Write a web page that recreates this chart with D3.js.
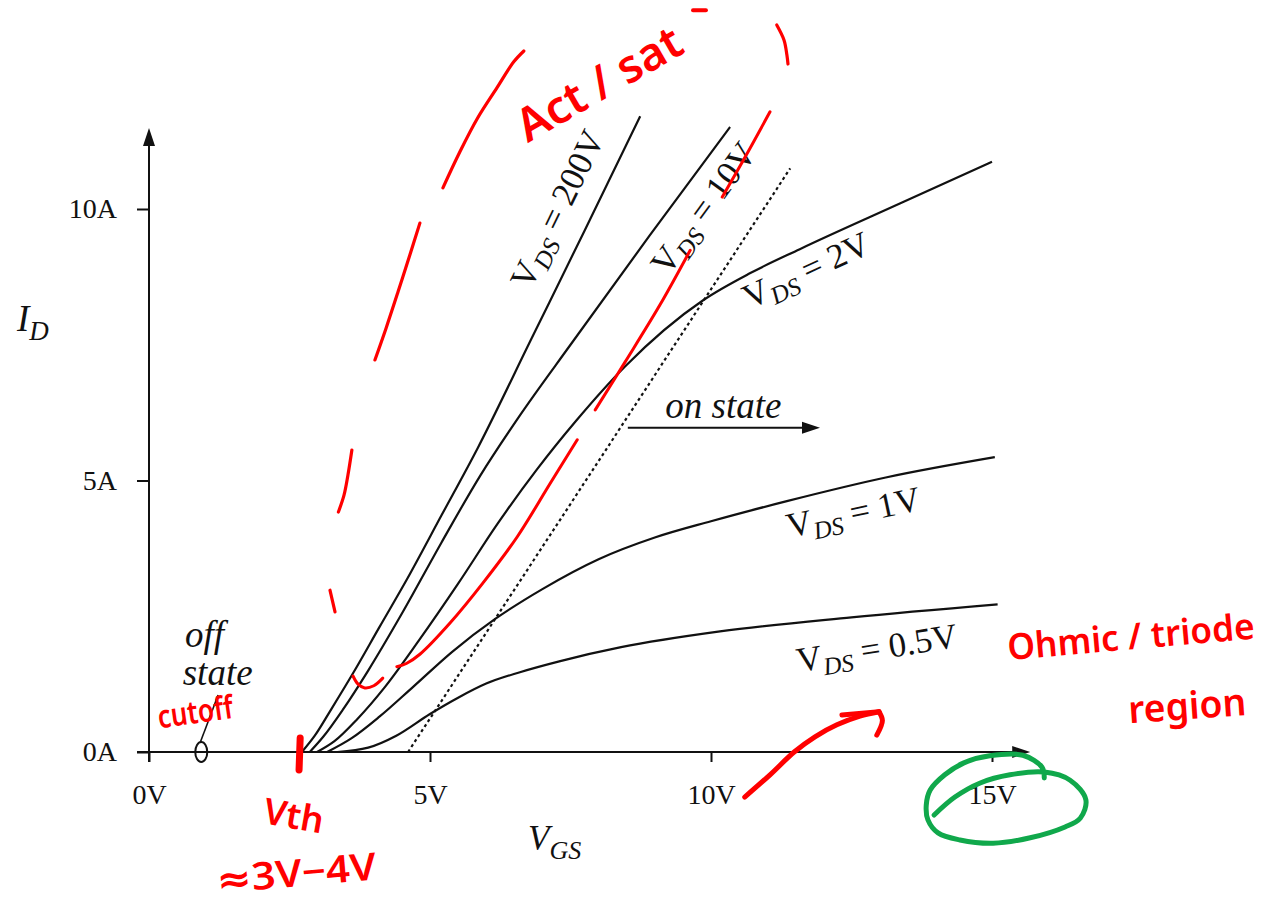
<!DOCTYPE html>
<html>
<head>
<meta charset="utf-8">
<script src="https://cdn.jsdelivr.net/npm/d3@7"></script>
<style>
  html, body { margin: 0; padding: 0; background: #fff; }
  svg { display: block; }
</style>
</head>
<body>
<svg id="chart" width="1261" height="912"></svg>
<script>
// ---- axis ticks ----
const vgsTicks = [0, 5, 10, 15];
const vgsTickLabels = ["0V", "5V", "10V", "15V"];
const idTicks = [0, 5, 10];
const idTickLabels = ["0A", "5A", "10A"];

// ---- transfer characteristics: [V_GS (V), I_D (A)] ----
const vdsValues = ["200V", "10V", "2V", "1V", "0.5V"];
const curveVds200 = [[2.72,0],[2.95,0.3],[3.25,0.8],[3.63,1.45],[4.1,2.3],[4.6,3.2],[5.2,4.35],[5.85,5.6],[6.8,7.6],[7.75,9.6],[8.74,11.71]];
const curveVds10  = [[2.86,0],[3.1,0.28],[3.45,0.78],[3.9,1.5],[4.5,2.55],[5.2,3.85],[5.9,5.1],[6.6,6.2],[7.5,7.5],[8.9,9.5],[10.34,11.51]];
const curveVds2   = [[2.99,0],[3.3,0.2],[3.7,0.6],[4.2,1.2],[4.8,2.05],[5.5,3.1],[6.2,4.2],[6.9,5.2],[7.6,6.1],[8.47,7.1],[9.86,8.32],[10.7,8.82],[11.58,9.26],[13.36,10.1],[15.0,10.87]];
const curveVds1   = [[3.17,0],[3.6,0.25],[4.1,0.65],[4.7,1.2],[5.4,1.85],[6.16,2.45],[7.0,3.0],[8.0,3.55],[9.0,3.95],[10.0,4.25],[11.35,4.62],[13.13,5.06],[15.05,5.43]];
const curveVds05  = [[3.35,0],[3.9,0.08],[4.4,0.3],[5.0,0.7],[5.5,1.0],[6.0,1.26],[6.6,1.47],[7.3,1.67],[8.4,1.93],[10.16,2.22],[12.5,2.48],[15.1,2.72]];
const curves = [curveVds200, curveVds10, curveVds2, curveVds1, curveVds05];

// on-state boundary (dotted)
const onBoundary = [[4.61,0],[11.41,10.75]];

// label anchors for each curve: [V_GS, I_D, angle]
const labelAnchors = [[7.26,10.0,-64],[9.86,10.02,-54],[11.69,8.88,-25],[12.53,4.42,-12],[12.95,1.92,-9]];

// ---- hand-drawn markup, in chart units ----
const redTraceA = [[4.41,1.57],[4.58,1.63],[4.82,1.80],[5.36,2.38],[5.94,3.11],[6.55,3.96],[7.14,4.95],[7.62,5.75]];
const redTraceB = [[7.94,6.30],[8.47,7.18],[9.09,8.23],[9.63,9.24]];
const redTraceC = [[10.20,10.22],[10.62,10.98],[11.05,11.79]];
const redHook   = [[3.63,1.40],[3.72,1.25],[3.84,1.18],[4.00,1.22],[4.16,1.36]];
const redArcA   = [[6.67,12.91],[6.49,12.71],[6.19,12.23],[5.85,11.68],[5.53,11.05],[5.23,10.39]];
const redArcB   = [[4.82,9.74],[4.64,9.15],[4.43,8.47],[4.22,7.81],[4.02,7.22]];
const redArcC   = [[3.61,5.56],[3.54,5.10],[3.47,4.73],[3.37,4.42]];
const redArcD   = [[3.22,2.98],[3.31,2.58]];
const redArcE   = [[11.17,13.39],[11.30,13.11],[11.35,12.84],[11.37,12.67]];
const redDash   = [[9.68,13.66],[9.91,13.66]];
const vthMark   = [[2.69,0.26],[2.67,-0.33]];
const redArrow  = [[10.60,-0.83],[11.05,-0.42],[11.48,0],[11.85,0.28],[12.24,0.50],[12.65,0.66],[12.99,0.74]];
const redArrowHeadA = [[12.33,0.68],[12.99,0.74]];
const redArrowHeadB = [[12.99,0.74],[13.05,0.58],[12.95,0.31]];
const greenLoop = [[13.97,-1.16],[14.34,-0.83],[14.79,-0.57],[15.32,-0.42],[15.93,-0.37],[16.39,-0.52],[16.67,-0.88],[16.57,-1.22],[16.30,-1.38],[15.68,-1.58],[15.02,-1.68],[14.43,-1.62],[14.04,-1.49],[13.86,-1.25],[13.83,-0.98],[13.90,-0.70],[14.16,-0.42],[14.50,-0.20],[14.96,-0.07],[15.55,-0.06],[15.89,-0.28],[15.93,-0.48]];

// ---- drawing ----
const svg = d3.select("#chart");
const x = d3.scaleLinear().domain([0, 15]).range([149, 992]);
const y = d3.scaleLinear().domain([0, 10]).range([752, 209]);
const serif = "'Liberation Serif','Times New Roman',serif";
const hand = "'Noto Sans','DejaVu Sans',sans-serif";
const ink = "#111";

// x axis
const gx = svg.append("g").attr("transform", `translate(0,${y(0)})`)
  .call(d3.axisBottom(x).tickValues(vgsTicks).tickFormat((d, i) => vgsTickLabels[i])
    .tickSize(10).tickPadding(22).tickSizeOuter(0));
gx.select(".domain").remove();
gx.selectAll(".tick line").attr("stroke", ink).attr("stroke-width", 2);
gx.selectAll(".tick text").attr("font-family", serif).attr("font-size", 28).attr("fill", ink);

// y axis
const gy = svg.append("g").attr("transform", `translate(${x(0)},0)`)
  .call(d3.axisLeft(y).tickValues(idTicks).tickFormat((d, i) => idTickLabels[i])
    .tickSize(12).tickPadding(20).tickSizeOuter(0));
gy.select(".domain").remove();
gy.selectAll(".tick line").attr("stroke", ink).attr("stroke-width", 2);
gy.selectAll(".tick text").attr("font-family", serif).attr("font-size", 28).attr("fill", ink);

// axis lines with arrow heads
const xEnd = x(15.68), yEnd = y(11.49);
svg.append("line").attr("x1", x(0) - 12).attr("y1", y(0)).attr("x2", xEnd - 8).attr("y2", y(0))
  .attr("stroke", ink).attr("stroke-width", 2);
svg.append("polygon").attr("points", `${xEnd},${y(0)} ${xEnd-18},${y(0)-6} ${xEnd-18},${y(0)+6}`).attr("fill", ink);
svg.append("line").attr("x1", x(0)).attr("y1", y(0) + 10).attr("x2", x(0)).attr("y2", yEnd + 8)
  .attr("stroke", ink).attr("stroke-width", 2);
svg.append("polygon").attr("points", `${x(0)},${yEnd} ${x(0)-6},${yEnd+18} ${x(0)+6},${yEnd+18}`).attr("fill", ink);

// axis titles
const idTitle = svg.append("text").attr("x", 17).attr("y", 331)
  .attr("font-family", serif).attr("font-style", "italic").attr("font-size", 37).attr("fill", ink);
idTitle.append("tspan").text("I");
idTitle.append("tspan").attr("font-size", 27).attr("dy", 9).text("D");

const vgsTitle = svg.append("text").attr("x", 528).attr("y", 850)
  .attr("font-family", serif).attr("font-style", "italic").attr("font-size", 35).attr("fill", ink);
vgsTitle.append("tspan").text("V");
vgsTitle.append("tspan").attr("font-size", 26).attr("dy", 9).text("GS");

// curves
const line = d3.line().x(d => x(d[0])).y(d => y(d[1])).curve(d3.curveMonotoneX);
svg.append("g").selectAll("path").data(curves).join("path")
  .attr("d", line).attr("fill", "none").attr("stroke", ink).attr("stroke-width", 2.2);

// on-state boundary
svg.append("path").attr("d", d3.line().x(d => x(d[0])).y(d => y(d[1]))(onBoundary))
  .attr("fill", "none").attr("stroke", ink).attr("stroke-width", 2.2).attr("stroke-dasharray", "3,3");

// curve labels
vdsValues.forEach((v, i) => {
  const [lv, li, ang] = labelAnchors[i];
  const t = svg.append("text")
    .attr("transform", `translate(${x(lv)},${y(li)}) rotate(${ang})`)
    .attr("text-anchor", "middle").attr("dominant-baseline", "central")
    .attr("font-family", serif).attr("font-size", 35).attr("fill", ink);
  t.append("tspan").text("V");
  t.append("tspan").attr("font-style", "italic").attr("font-size", 25).attr("dy", 10).text("DS");
  t.append("tspan").attr("dy", -10).text(" = " + v);
});

// on state arrow
const onY = 5.97;
svg.append("line").attr("x1", x(8.52)).attr("y1", y(onY)).attr("x2", x(11.94) - 10).attr("y2", y(onY))
  .attr("stroke", ink).attr("stroke-width", 2);
svg.append("polygon")
  .attr("points", `${x(11.94)},${y(onY)} ${x(11.94)-18},${y(onY)-6} ${x(11.94)-18},${y(onY)+6}`)
  .attr("fill", ink);
svg.append("text").attr("x", x(10.22)).attr("y", y(6.15)).attr("text-anchor", "middle")
  .attr("font-family", serif).attr("font-style", "italic").attr("font-size", 37).attr("fill", ink)
  .text("on state");

// off state marker
svg.append("ellipse").attr("cx", x(0.93)).attr("cy", y(0)).attr("rx", 6).attr("ry", 10)
  .attr("fill", "none").attr("stroke", ink).attr("stroke-width", 2);
svg.append("line").attr("x1", x(0.91)).attr("y1", y(0.17)).attr("x2", x(1.23)).attr("y2", y(1.05))
  .attr("stroke", ink).attr("stroke-width", 1.6);
svg.append("text").attr("x", x(0.64)).attr("y", y(1.93))
  .attr("font-family", serif).attr("font-style", "italic").attr("font-size", 37).attr("fill", ink).text("off");
svg.append("text").attr("x", x(0.6)).attr("y", y(1.23))
  .attr("font-family", serif).attr("font-style", "italic").attr("font-size", 37).attr("fill", ink).text("state");

// hand-drawn markup
const pen = d3.line().x(d => x(d[0])).y(d => y(d[1])).curve(d3.curveCatmullRom.alpha(0.5));
const red = "#ff0000";
function stroke(pts, color, w) {
  svg.append("path").attr("d", pen(pts)).attr("fill", "none").attr("stroke", color)
    .attr("stroke-width", w).attr("stroke-linecap", "round").attr("stroke-linejoin", "round");
}
[redTraceA, redTraceB, redTraceC, redHook].forEach(p => stroke(p, red, 3));
[redArcA, redArcB, redArcC, redArcD, redArcE].forEach(p => stroke(p, red, 3.2));
stroke(redDash, red, 4);
stroke(vthMark, red, 7);
stroke(redArrow, red, 5);
stroke(redArrowHeadA, red, 5);
stroke(redArrowHeadB, red, 5);
stroke(greenLoop, "#10a84b", 5);

function note(txt, v, a, ang, size, len) {
  const t = svg.append("text")
    .attr("transform", `translate(${x(v)},${y(a)}) rotate(${ang})`)
    .attr("text-anchor", "middle").attr("dominant-baseline", "central")
    .attr("font-family", hand).attr("font-weight", 600).attr("font-size", size)
    .attr("fill", red).text(txt);
  if (len) t.attr("textLength", len).attr("lengthAdjust", "spacingAndGlyphs");
}
note("Act / sat", 7.99, 12.34, -30, 46);
note("cutoff", 0.82, 0.76, -8, 32, 76);
note("Vth", 2.58, -1.16, 10, 36);
note("≈3V−4V", 2.62, -2.2, -5, 38, 160);
note("Ohmic / triode", 17.47, 2.14, -5, 36, 248);
note("region", 18.47, 0.88, -4, 38, 118);
</script>
</body>
</html>
